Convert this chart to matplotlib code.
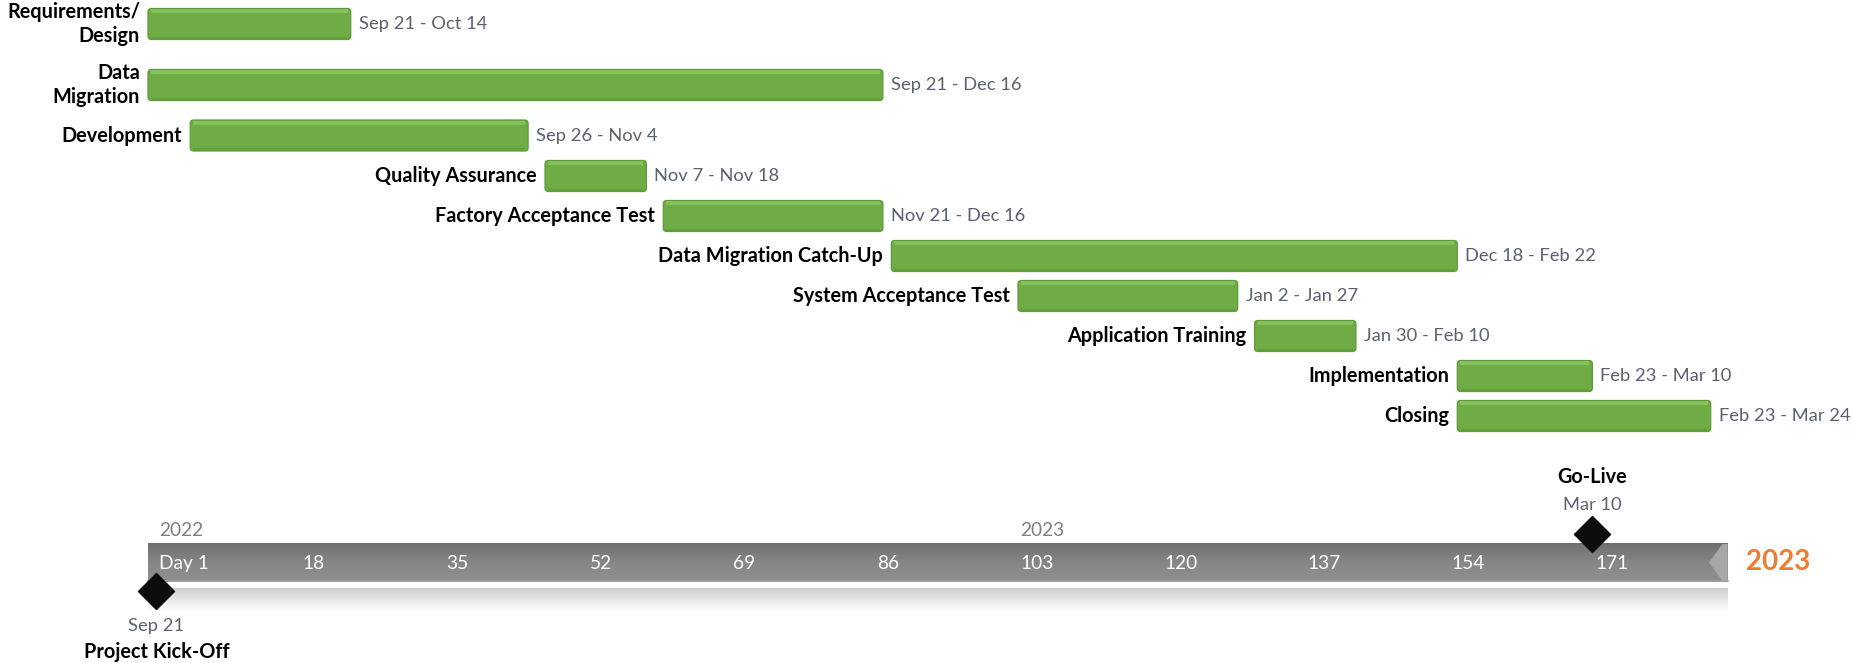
import numpy as np
import pandas as pd
import matplotlib
matplotlib.use("Agg")
import matplotlib.pyplot as plt
from matplotlib.colors import LinearSegmentedColormap
from matplotlib.patches import FancyBboxPatch

# ---- data ----
tasks = ["Requirements/\nDesign", "Data\nMigration", "Development", "Quality Assurance",
         "Factory Acceptance Test", "Data Migration Catch-Up", "System Acceptance Test",
         "Application Training", "Implementation", "Closing"]
starts = ["2022-09-21", "2022-09-21", "2022-09-26", "2022-11-07", "2022-11-21",
          "2022-12-18", "2023-01-02", "2023-01-30", "2023-02-23", "2023-02-23"]
ends = ["2022-10-14", "2022-12-16", "2022-11-04", "2022-11-18", "2022-12-16",
        "2023-02-22", "2023-01-27", "2023-02-10", "2023-03-10", "2023-03-24"]
milestones = ["Project Kick-Off", "Go-Live"]
milestone_dates = ["2022-09-21", "2023-03-10"]
tick_days = [1, 18, 35, 52, 69, 86, 103, 120, 137, 154, 171]
years = ["2022", "2023"]
year_starts = ["2022-09-21", "2023-01-01"]
timeline_end = "2023-03-27"

# ---- layout ----
row_y = [24, 85, 135.5, 176, 216, 256, 296, 336, 376, 416]
bar_h = 31
PX = 8.447          # pixels per day
x0_px = 148         # pixel of day 1
tl_top, tl_bot = 543, 582
ms_y = [591, 534]   # diamond centres
ms_side = ["below", "above"]

font = ["Lato", "DejaVu Sans"]
date_col = "#5a6170"
bold_size = 14.3

origin = pd.Timestamp(starts[0])
s = pd.to_datetime(starts)
e = pd.to_datetime(ends)
t0 = np.array((s - origin).days, dtype=float)
t1 = np.array((e - origin).days, dtype=float) + 1
t_end = (pd.Timestamp(timeline_end) - origin).days


def fmt(d):
    return f"{d:%b} {d.day}"


fig = plt.figure(figsize=(18.53, 6.63), dpi=100)
ax = fig.add_axes([0, 0, 1, 1])
ax.set_xlim(-x0_px / PX, (1853 - x0_px) / PX)
ax.set_ylim(663, 0)
ax.axis("off")

# task bars (rounded corners)
bars = ax.barh(row_y, t1 - t0, left=t0, height=bar_h, color="#6fac46")
rad = 3.5 / PX
for b in bars:
    b.set_visible(False)
    ax.add_patch(FancyBboxPatch((b.get_x(), b.get_y()), b.get_width(), b.get_height(),
                                boxstyle=f"round,pad=0,rounding_size={rad}",
                                mutation_aspect=PX, fc="#6fac46", ec="#5e9b3b",
                                lw=0.9, zorder=3))
ax.barh(np.array(row_y) - bar_h / 2 + 2.5, t1 - t0 - 0.7, left=t0 + 0.35, height=4,
        color="#86c05c", linewidth=0, zorder=4)
ax.barh(np.array(row_y) + bar_h / 2 - 1.5, t1 - t0 - 0.7, left=t0 + 0.35, height=2.5,
        color="#62a03c", linewidth=0, zorder=4)

for i, name in enumerate(tasks):
    ax.text(t0[i] - 8 / PX, row_y[i], name, ha="right", va="center",
            fontsize=bold_size, fontweight="bold", family=font,
            multialignment="right", linespacing=1.3, zorder=5)
    ax.text(t1[i] + 8 / PX, row_y[i], f"{fmt(s[i])} - {fmt(e[i])}",
            ha="left", va="center", fontsize=13.2, color=date_col,
            family=font, zorder=5)

# timeline band
grad = LinearSegmentedColormap.from_list("band", ["#6f6f6f", "#878787", "#8f8f8f"])
ax.imshow(np.linspace(0, 1, 64).reshape(-1, 1), cmap=grad, aspect="auto",
          extent=(0, t_end, tl_bot, tl_top), origin="upper", zorder=2,
          interpolation="bilinear")
ax.plot([0, t_end], [tl_bot - 1, tl_bot - 1], color="#a0a0a0", lw=1.2, zorder=2.5)
refl = LinearSegmentedColormap.from_list("refl", ["#cdcdcd", "#e8e8e8", "#ffffff"])
ax.imshow(np.linspace(0, 1, 64).reshape(-1, 1), cmap=refl, aspect="auto",
          extent=(0, t_end, tl_bot + 30, tl_bot + 6), origin="upper", zorder=1,
          interpolation="bilinear")
ax.fill([t_end - 2.2, t_end - 0.6, t_end, t_end, t_end - 0.6],
        [(tl_top + tl_bot) / 2, tl_top + 1, tl_top + 1, tl_bot - 1, tl_bot - 1],
        color="#a7a7a7", lw=0, zorder=2.6)

tl_mid = (tl_top + tl_bot) / 2 + 1
for d in tick_days:
    lab = "Day 1" if d == 1 else str(d)
    ax.text(d - 1 + 11 / PX, tl_mid, lab, color="white", fontsize=13.8,
            family=font, ha="left", va="center", zorder=5)

for yr, ys in zip(years, year_starts):
    ty = (pd.Timestamp(ys) - origin).days
    ax.text(ty + 11 / PX, tl_top - 12, yr, color="#7f7f7f", fontsize=13.8,
            family=font, ha="left", va="center", zorder=5)

ax.text(t_end + 18 / PX, tl_mid - 1, timeline_end[:4], color="#ED7D31",
        fontsize=20, fontweight="bold", family=font,
        ha="left", va="center", zorder=5)

# milestones
for name, md, my, side in zip(milestones, milestone_dates, ms_y, ms_side):
    tm = (pd.Timestamp(md) - origin).days + 1
    ax.plot(tm, my, marker="D", ms=18.5, color="#0d0d0d", mec="#0d0d0d", zorder=6)
    if side == "below":
        d_off, n_off = 35, 61
    else:
        d_off, n_off = -29, -57
    ax.text(tm, my + d_off, fmt(pd.Timestamp(md)), ha="center", va="center",
            fontsize=13.2, color=date_col, family=font, zorder=6)
    ax.text(tm, my + n_off, name, ha="center", va="center", fontsize=bold_size,
            fontweight="bold", family=font, zorder=6)

fig.savefig("out.png", dpi=100)
